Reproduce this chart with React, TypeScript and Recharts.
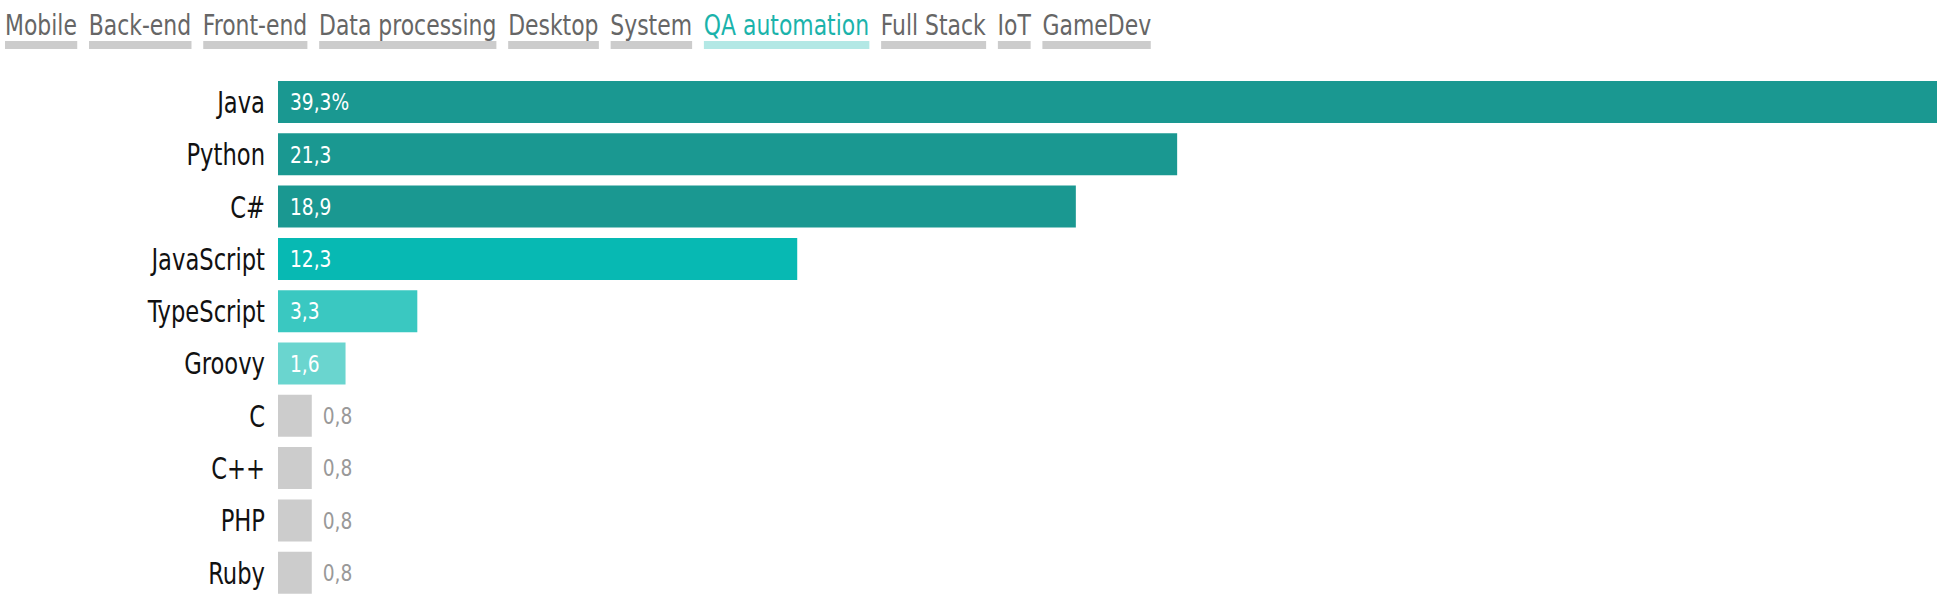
import { BarChart, Bar, XAxis, YAxis, Cell, LabelList } from "recharts";

const tabs = ["Mobile", "Back-end", "Front-end", "Data processing", "Desktop", "System", "QA automation", "Full Stack", "IoT", "GameDev"];
const activeTab = "QA automation";

const languages = ["Java", "Python", "C#", "JavaScript", "TypeScript", "Groovy", "C", "C++", "PHP", "Ruby"];
const shares = [39.3, 21.3, 18.9, 12.3, 3.3, 1.6, 0.8, 0.8, 0.8, 0.8];
const barColors = ["#1a9891", "#1a9891", "#1a9891", "#07b9b3", "#3ac8c1", "#6ad5cf", "#cccccc", "#cccccc", "#cccccc", "#cccccc"];

const FONT = "'DejaVu Sans Condensed', 'Liberation Sans Narrow', sans-serif";
const SQUEEZE = 0.84;

const data = languages.map((name, i) => ({ name, value: shares[i] }));

const fmt = (v: number, i: number) => v.toFixed(1).replace(".", ",") + (i === 0 ? "%" : "");

function LangTick(props: any) {
  const { x, y, payload } = props;
  return (
    <g transform={`translate(${x},${y})`}>
      <text transform={`scale(${SQUEEZE},1)`} textAnchor="end" dy="0.36em" fill="#111111" fontSize={30} fontFamily={FONT}>
        {payload.value}
      </text>
    </g>
  );
}

function ValueLabel(props: any) {
  const vb = props.viewBox || {};
  const x = props.x ?? vb.x;
  const y = props.y ?? vb.y;
  const width = props.width ?? vb.width;
  const height = props.height ?? vb.height;
  const { value, index } = props;
  const inside = value > 1;
  return (
    <g transform={`translate(${inside ? x + 12 : x + width + 11},${y + height / 2})`}>
      <text
        transform="scale(0.9,1)"
        dy="0.36em"
        fill={inside ? "#ffffff" : "#999999"}
        fontSize={23}
        fontFamily={FONT}
      >
        {fmt(value, index)}
      </text>
    </g>
  );
}

export default function App() {
  return (
    <div style={{ position: "fixed", left: 0, top: 0, width: 1951, height: 602, background: "#fff", fontFamily: FONT }}>
      <div
        style={{
          position: "absolute",
          left: 5,
          top: 9,
          display: "flex",
          gap: 14,
          transform: `scaleX(${SQUEEZE})`,
          transformOrigin: "0 0",
        }}
      >
        {tabs.map((t) => (
          <span
            key={t}
            style={{
              fontSize: 29,
              lineHeight: "32px",
              color: t === activeTab ? "#1ab3ab" : "#666666",
              borderBottom: `8px solid ${t === activeTab ? "#b3e8e5" : "#cccccc"}`,
              whiteSpace: "nowrap",
            }}
          >
            {t}
          </span>
        ))}
      </div>
      <div style={{ position: "absolute", left: 0, top: 0 }}>
        <BarChart
          width={1951}
          height={602}
          data={data}
          layout="vertical"
          margin={{ top: 76, right: 14, bottom: 3, left: 0 }}
          barSize={42}
        >
          <XAxis type="number" hide domain={[0, "dataMax"]} />
          <YAxis
            type="category"
            dataKey="name"
            width={278}
            axisLine={false}
            tickLine={false}
            tickSize={0}
            tickMargin={13}
            interval={0}
            tick={<LangTick />}
          />
          <Bar dataKey="value" isAnimationActive={false}>
            {data.map((_, i) => (
              <Cell key={i} fill={barColors[i]} />
            ))}
            <LabelList dataKey="value" content={ValueLabel} />
          </Bar>
        </BarChart>
      </div>
    </div>
  );
}
